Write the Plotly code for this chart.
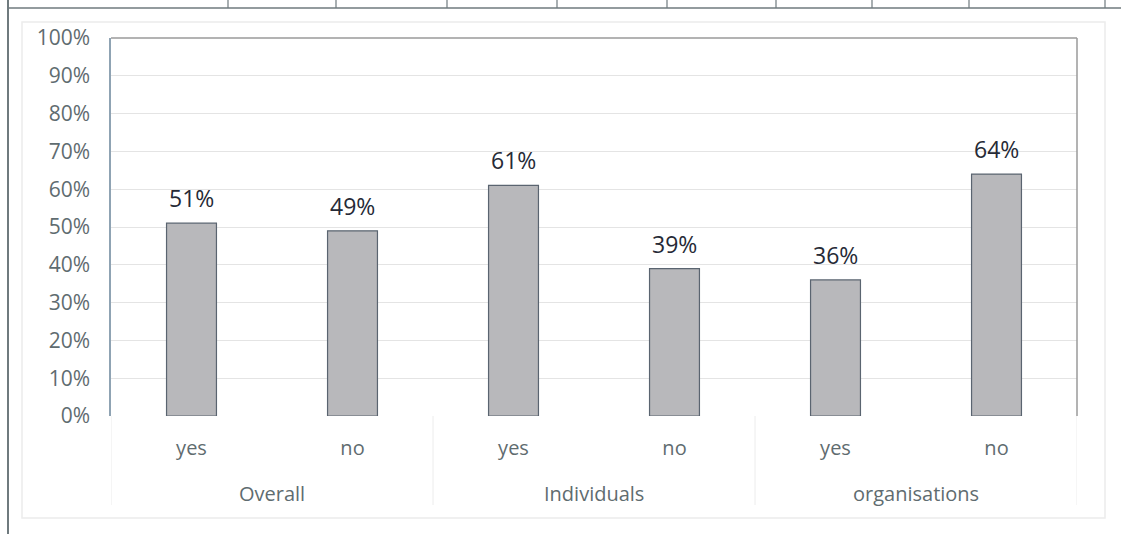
import plotly.graph_objects as go

# Survey answers, grouped by respondent type
groups = ["Overall", "Individuals", "organisations"]
answers = ["yes", "no", "yes", "no", "yes", "no"]
shares = [0.51, 0.49, 0.61, 0.39, 0.36, 0.64]
y_ticks = [0, 0.1, 0.2, 0.3, 0.4, 0.5, 0.6, 0.7, 0.8, 0.9, 1.0]

FONT = "Open Sans, sans-serif"
LABEL_GREY = "#5f6c70"
PLOT_W, PLOT_H = 966, 378  # plot-area size in pixels, used for paper offsets

# two answers per group, laid out left to right
positions = list(range(len(answers)))

fig = go.Figure(
    go.Bar(
        x=positions,
        y=shares,
        marker=dict(color="#b8b8bb", line=dict(color="#5a6470", width=1.2)),
    )
)

# Value labels above each bar
for xp, v in zip(positions, shares):
    fig.add_annotation(
        x=xp, y=v, xref="x", yref="y",
        text=f"{v:.0%}", showarrow=False,
        yanchor="bottom", yshift=7,
        font=dict(family=FONT, size=23, color="#262a36"),
    )

fig.update_layout(
    width=1121,
    height=534,
    margin=dict(l=111, r=44, t=38, b=118),
    paper_bgcolor="white",
    plot_bgcolor="white",
    bargap=0.69,
    showlegend=False,
    font=dict(family=FONT, color=LABEL_GREY),
)

fig.update_yaxes(
    range=[0, 1],
    tickvals=y_ticks,
    tickformat=".0%",
    tickfont=dict(size=21, color=LABEL_GREY),
    showgrid=True,
    gridcolor="#e4e4e4",
    gridwidth=1,
    zeroline=False,
    showline=True,
    linecolor="#8fa3b3",
    linewidth=1.5,
    ticks="",
    ticklabelstandoff=15,
)

fig.update_xaxes(
    range=[-0.5, len(answers) - 0.5],
    tickvals=positions,
    ticktext=answers,
    tickfont=dict(size=20, color=LABEL_GREY),
    showgrid=False,
    zeroline=False,
    showline=False,
    ticks="",
    ticklabelstandoff=18,
)

# Group labels under each pair of answers, with divider lines between groups
for i, name in enumerate(groups):
    fig.add_annotation(
        x=2 * i + 0.5, xref="x", y=-77 / PLOT_H, yref="paper",
        yanchor="middle", text=name, showarrow=False,
        font=dict(family=FONT, size=20, color=LABEL_GREY),
    )
for i in range(len(groups) + 1):
    fig.add_shape(type="line", xref="x", yref="paper",
                  x0=2 * i - 0.5, x1=2 * i - 0.5, y0=0, y1=-89 / PLOT_H,
                  line=dict(color="#ececec", width=1))

# Plot-area frame (top and right edges) and the outer chart border
fig.add_shape(type="line", xref="paper", yref="paper", x0=0, x1=1, y0=1, y1=1,
              line=dict(color="#9a9a9a", width=1.5))
fig.add_shape(type="line", xref="paper", yref="paper", x0=1, x1=1, y0=0, y1=1,
              line=dict(color="#9a9a9a", width=1.5))
fig.add_shape(type="rect", xref="paper", yref="paper",
              x0=-89 / PLOT_W, x1=1 + 28 / PLOT_W,
              y0=-102 / PLOT_H, y1=1 + 16 / PLOT_H,
              line=dict(color="#ececec", width=1.5))

# Spreadsheet grid lines surrounding the chart
top_y = 1 + 30 / PLOT_H
fig.add_shape(type="line", xref="paper", yref="paper",
              x0=-103 / PLOT_W, x1=1 + 44 / PLOT_W, y0=top_y, y1=top_y,
              line=dict(color="#6f7a7e", width=1.5))
fig.add_shape(type="line", xref="paper", yref="paper",
              x0=-103 / PLOT_W, x1=-103 / PLOT_W, y0=-118 / PLOT_H, y1=1 + 38 / PLOT_H,
              line=dict(color="#6f7a7e", width=2))
for col_x in [228, 336, 447, 557, 667, 776, 872, 969, 1105]:
    px = (col_x - 111) / PLOT_W
    fig.add_shape(type="line", xref="paper", yref="paper",
                  x0=px, x1=px, y0=top_y, y1=1 + 38 / PLOT_H,
                  line=dict(color="#6f7a7e", width=1.2))

fig.write_html("out.html")
